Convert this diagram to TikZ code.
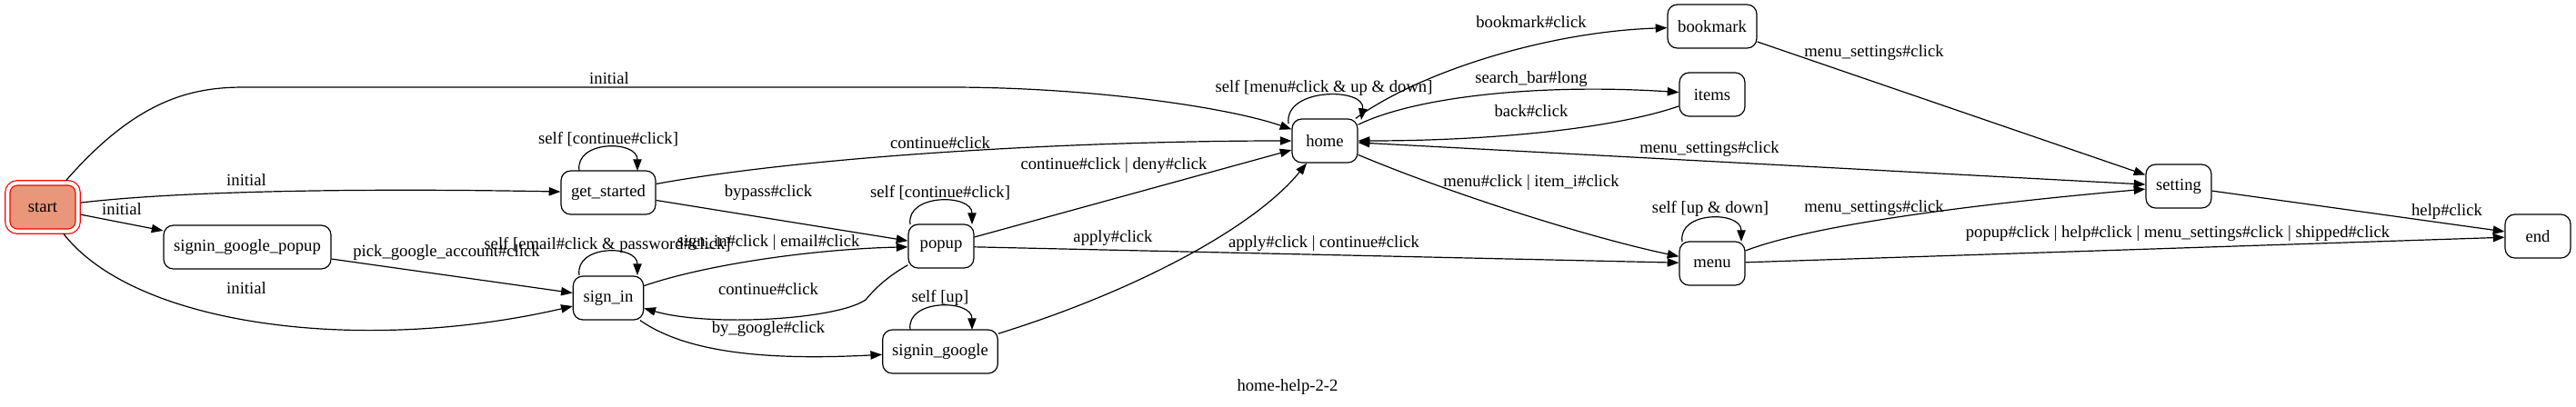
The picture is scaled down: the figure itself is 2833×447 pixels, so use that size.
\documentclass[tikz,border=0pt]{standalone}
\usepackage{fontspec}
\setmainfont{Liberation Serif}
\usetikzlibrary{arrows.meta}
\definecolor{gvsalmon}{HTML}{E9967A}
\newcommand\gvfont{\fontsize{14pt}{16pt}\selectfont}
\tikzset{
  st/.style={draw, rounded corners=8pt, minimum height=36pt, minimum width=54pt, inner sep=0pt, line width=0.9pt, font=\gvfont},
  arr/.style={-{Triangle[length=9.5pt,width=7pt]}, line width=0.9pt},
  dblarr/.style={{Triangle[length=9.5pt,width=7pt]}-{Triangle[length=9.5pt,width=7pt]}, line width=0.9pt},
  lbl/.style={inner sep=0pt, font=\gvfont},
}
\begin{document}
\begin{tikzpicture}[x=0.75pt,y=-0.75pt]
\useasboundingbox (0,0) rectangle (2833,447);
% nodes
\node[st, draw=red, double=white, double distance=3pt, fill=gvsalmon, minimum width=58pt, minimum height=40pt] (start) at (47,228) {start};
\node[st, minimum width=138pt] (sgp) at (272,272) {signin\_google\_popup};
\node[st, minimum width=78pt] (gs) at (669,212) {get\_started};
\node[st, minimum width=58pt] (signin) at (669,328) {sign\_in};
\node[st] (popup) at (1035,271) {popup};
\node[st, minimum width=95pt] (sgoogle) at (1034,387) {signin\_google};
\node[st] (home) at (1457,155) {home};
\node[st, minimum width=73.5pt] (bookmark) at (1883,29) {bookmark};
\node[st] (items) at (1883,104) {items};
\node[st] (menu) at (1883,290) {menu};
\node[st] (setting) at (2396,205) {setting};
\node[st] (nend) at (2791,260) {end};
\node[lbl] (caption) at (1416,426) {home-help-2-2};
% edges from start
\draw[arr, shorten <=2pt] (start) .. controls (150,110) and (210,96) .. (268,96) -- (1044,96) .. controls (1200,96) and (1350,118) .. (home);
\node[lbl] (l1) at (670,86) {initial};
\draw[arr, shorten <=2pt] (start) .. controls (200,210) and (400,207) .. (gs);
\node[lbl] (l2) at (271,198) {initial};
\draw[arr, shorten <=2pt] (start) -- (sgp);
\node[lbl] (l3) at (134,230) {initial};
\draw[arr, shorten <=2pt] (start) .. controls (150,360) and (400,390) .. (signin);
\node[lbl] (l4) at (271,317) {initial};
% self loops
\draw[arr] ([shift={(-32,-24)}]gs.center) .. controls +(-5,-34) and +(0,-34) .. ([shift={(32,-24)}]gs.center);
\node[lbl] (l5) at (669,153) {self [continue\#click]};
\draw[arr] ([shift={(-32,-25)}]signin.center) .. controls +(-5,-34) and +(0,-34) .. ([shift={(32,-25)}]signin.center);
\node[lbl] (l6) at (668,270) {self [email\#click \& password\#click]};
\draw[arr] ([shift={(-34,-24)}]popup.center) .. controls +(-5,-34) and +(0,-34) .. ([shift={(34,-24)}]popup.center);
\node[lbl] (l7) at (1034,212) {self [continue\#click]};
\draw[arr] ([shift={(-33,-24)}]sgoogle.center) .. controls +(-5,-34) and +(0,-34) .. ([shift={(35,-24)}]sgoogle.center);
\node[lbl] (l8) at (1034,328) {self [up]};
\draw[arr] ([shift={(-40,-19)}]home.center) .. controls +(-5,-40) and +(5,-36) .. ([shift={(40,-23)}]home.center);
\node[lbl] (l9) at (1456,97) {self [menu\#click \& up \& down]};
\draw[arr] ([shift={(-33,-24)}]menu.center) .. controls +(-5,-34) and +(0,-34) .. ([shift={(32,-24)}]menu.center);
\node[lbl] (l10) at (1881,230) {self [up \& down]};
% middle edges
\draw[arr] (gs) .. controls (900,170) and (1200,155) .. (home);
\node[lbl] (l11) at (1034,157) {continue\#click};
\draw[arr] (gs) -- (popup);
\node[lbl] (l12) at (845,212) {bypass\#click};
\draw[arr] (sgp) -- (signin);
\node[lbl] (l13) at (491,278) {pick\_google\_account\#click};
\draw[arr] (signin) .. controls (780,290) and (900,274) .. (popup);
\node[lbl] (l14) at (845,267) {sign\_in\#click | email\#click};
\draw[arr] (popup) .. controls (975,305) and (962,318) .. (952,330) .. controls (920,352) and (780,360) .. (signin);
\node[lbl] (l15) at (845,318) {continue\#click};
\draw[arr] (signin) .. controls (760,392) and (860,396) .. (sgoogle);
\node[lbl] (l16) at (845,362) {by\_google\#click};
\draw[arr] (popup) -- (home);
\node[lbl] (l17) at (1225,182) {continue\#click | deny\#click};
\draw[arr] (popup) -- (menu);
\node[lbl] (l18) at (1224,262) {apply\#click};
\node[lbl] (l19) at (1456,268) {apply\#click | continue\#click};
\draw[arr] (sgoogle) .. controls (1250,320) and (1380,250) .. (home);
% right part
\draw[arr] (home) .. controls (1560,80) and (1700,35) .. (bookmark);
\node[lbl] (l20) at (1684,24) {bookmark\#click};
\draw[arr] (home) .. controls (1560,105) and (1700,92) .. (items);
\node[lbl] (l21) at (1684,87) {search\_bar\#long};
\draw[arr] (items) .. controls (1780,140) and (1650,155) .. (home);
\node[lbl] (l22) at (1684,122) {back\#click};
\draw[dblarr] (home) -- (setting);
\node[lbl] (l23) at (1880,164) {menu\_settings\#click};
\draw[arr] (home) .. controls (1600,215) and (1750,262) .. (menu);
\node[lbl] (l24) at (1684,201) {menu\#click | item\_i\#click};
\draw[arr] (menu) .. controls (2000,245) and (2200,222) .. (setting);
\node[lbl] (l25) at (2061,229) {menu\_settings\#click};
\draw[arr] (menu) -- (nend);
\node[lbl] (l26) at (2395,257) {popup\#click | help\#click | menu\_settings\#click | shipped\#click};
\draw[arr] (bookmark) -- (setting);
\node[lbl] (l27) at (2061,58) {menu\_settings\#click};
\draw[arr] (setting) -- (nend);
\node[lbl] (l28) at (2691,233) {help\#click};
\end{tikzpicture}
\end{document}
